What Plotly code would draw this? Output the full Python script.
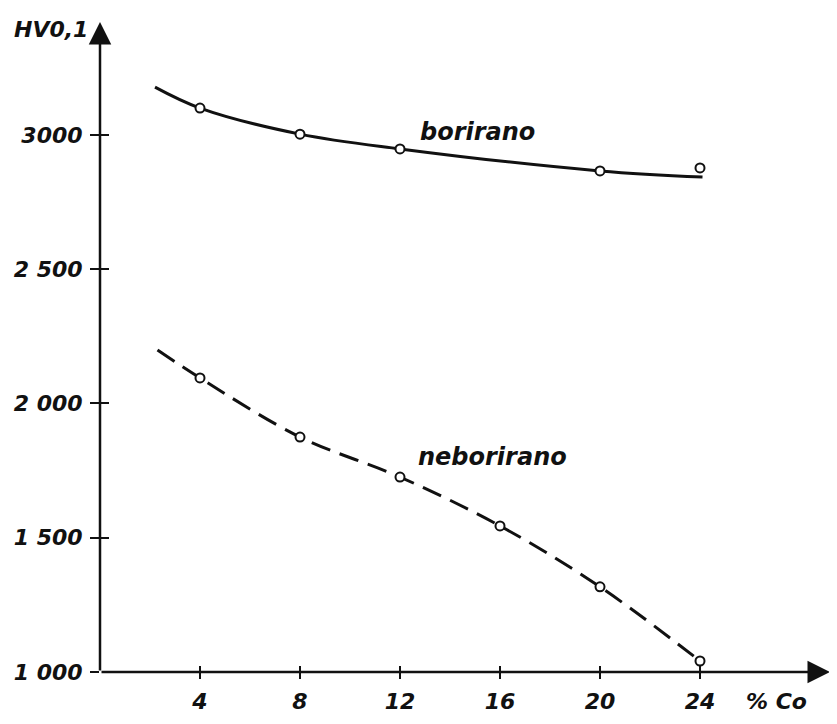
import plotly.graph_objects as go

# ---- data ----
bor_line_x = [2.2, 4, 8, 12, 20, 24.1]
bor_line_y = [3178, 3100, 3003, 2948, 2866, 2843]
bor_pts_x = [4, 8, 12, 20, 24]
bor_pts_y = [3100, 3003, 2948, 2866, 2877]

neb_line_x = [2.3, 4, 8, 12, 16, 20, 24]
neb_line_y = [2199, 2095, 1875, 1726, 1544, 1317, 1041]
neb_pts_x = [4, 8, 12, 16, 20, 24]
neb_pts_y = [2095, 1875, 1726, 1544, 1317, 1041]

x_ticks = [4, 8, 12, 16, 20, 24]
x_ticktext = ["4", "8", "12", "16", "20", "24"]
y_ticks = [1000, 1500, 2000, 2500, 3000]
y_ticktext = ["1 000", "1 500", "2 000", "2 500", "3000"]

# ---- layout geometry (page has an 8px body margin) ----
OFF = 8
W, H = 837 - OFF, 724 - OFF
PL, PT, PB = 100, 20, 672          # plot edges in page pixels
L, T = PL - OFF, PT - OFF
B = H - (PB - OFF)
XR = [0, 29.4]
YR = [1000, 3428]
PW = 735
R = W - L - PW

FONT = dict(family="DejaVu Sans", color="#111111", size=22, style="italic", weight="bold")
BIG = dict(FONT, size=24)
INK = "#111111"


def px2paper(px, py):
    return (px - PL) / PW, (PB - py) / (PB - PT)


fig = go.Figure()

fig.add_trace(go.Scatter(x=bor_line_x, y=bor_line_y, mode="lines",
                         line=dict(color=INK, width=3, shape="spline", smoothing=1.0),
                         hoverinfo="skip", showlegend=False))
fig.add_trace(go.Scatter(x=bor_pts_x, y=bor_pts_y, mode="markers",
                         marker=dict(symbol="circle", size=9, color="white",
                                     line=dict(color=INK, width=2)),
                         showlegend=False))
fig.add_trace(go.Scatter(x=neb_line_x, y=neb_line_y, mode="lines",
                         line=dict(color=INK, width=3, shape="spline", smoothing=1.0,
                                   dash="20px,10px"),
                         hoverinfo="skip", showlegend=False))
fig.add_trace(go.Scatter(x=neb_pts_x, y=neb_pts_y, mode="markers",
                         marker=dict(symbol="circle", size=9, color="white",
                                     line=dict(color=INK, width=2)),
                         showlegend=False))
# helper invisible trace so the overlay axes (inner tick halves) are drawn
fig.add_trace(go.Scatter(x=neb_pts_x, y=neb_pts_y, xaxis="x2", yaxis="y2", mode="markers",
                         marker=dict(opacity=0), hoverinfo="skip", showlegend=False))

# axis arrows
fig.add_annotation(x=29.2, y=1000, ax=0, ay=1000, xref="x", yref="y", axref="x", ayref="y",
                   showarrow=True, arrowhead=2, arrowsize=1.8, arrowwidth=2.5, arrowcolor=INK, text="")
fig.add_annotation(x=0, y=3421, ax=0, ay=1000, xref="x", yref="y", axref="x", ayref="y",
                   showarrow=True, arrowhead=2, arrowsize=1.8, arrowwidth=2.5, arrowcolor=INK, text="")

# texts
fig.add_annotation(x=15.1, y=3011, xref="x", yref="y", text="borirano", showarrow=False, font=BIG)
fig.add_annotation(x=15.7, y=1801, xref="x", yref="y", text="neborirano", showarrow=False, font=BIG)
hx, hy = px2paper(12, 29)
fig.add_annotation(x=hx, y=hy, xref="paper", yref="paper", xanchor="left", yanchor="middle",
                   text="HV0,1", showarrow=False, font=FONT)
cx, cy = px2paper(776, 701)
fig.add_annotation(x=cx, y=cy, xref="paper", yref="paper", xanchor="center", yanchor="middle",
                   text="% Co", showarrow=False, font=FONT)

axis_common = dict(showgrid=False, zeroline=False, showline=False)
fig.update_layout(
    width=W, height=H,
    margin=dict(l=L, r=R, t=T, b=B, autoexpand=False),
    paper_bgcolor="white", plot_bgcolor="white",
    font=FONT,
    xaxis=dict(range=XR, tickvals=x_ticks, ticktext=x_ticktext, ticks="outside", ticklen=6,
               tickwidth=2, tickcolor=INK, ticklabelstandoff=4, **axis_common),
    yaxis=dict(range=YR, tickvals=y_ticks, ticktext=y_ticktext, ticks="outside", ticklen=9,
               tickwidth=2, tickcolor=INK, ticklabelstandoff=3, **axis_common),
    xaxis2=dict(range=XR, overlaying="x", side="bottom", tickvals=x_ticks, ticks="inside",
                ticklen=6, tickwidth=2, tickcolor=INK, showticklabels=False, **axis_common),
    yaxis2=dict(range=YR, overlaying="y", side="left", tickvals=y_ticks, ticks="inside",
                ticklen=9, tickwidth=2, tickcolor=INK, showticklabels=False, **axis_common),
)

fig.write_html("out.html")
